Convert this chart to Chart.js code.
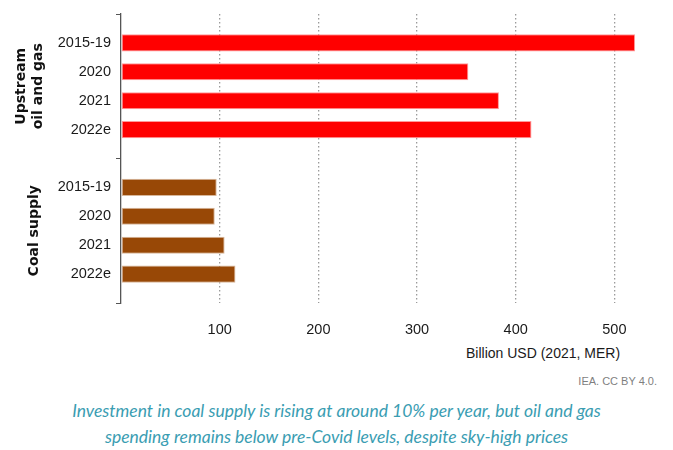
<!DOCTYPE html>
<html>
<head>
<meta charset="utf-8">
<script src="https://cdn.jsdelivr.net/npm/chart.js@4.4.1/dist/chart.umd.min.js"></script>
<style>
    body { margin: 0; background: #ffffff; }
    #wrap { position: relative; width: 673px; height: 450px; }
    #chartBox { position: absolute; left: 0; top: 0; width: 673px; height: 340px; }
    .axisTitle {
        position: absolute; left: 466px; top: 345px;
        font: 14px "Liberation Sans", sans-serif;
        color: #1a1a1a;
    }
    .source {
        position: absolute; right: 16px; top: 375px;
        font: 11px "Liberation Sans", sans-serif;
        color: #7f7f7f;
    }
    .caption {
        position: absolute; left: 0; top: 398px; width: 673px;
        text-align: center;
        font: italic 17.5px Lato, "Noto Sans", sans-serif;
        line-height: 26px;
        color: #3a9db2;
    }
</style>
</head>
<body>

<div id="wrap">
    <div id="chartBox"><canvas id="investChart"></canvas></div>
    <div class="axisTitle">Billion USD (2021, MER)</div>
    <div class="source">IEA. CC BY 4.0.</div>
    <div class="caption">
        Investment in coal supply is rising at around 10% per year, but oil and gas<br>
        spending remains below pre-Covid levels, despite sky-high prices
    </div>
</div>

<script>

// DATA

const periods = ["2015-19", "2020", "2021", "2022e"];

const oilGasValues = [521, 352, 383, 416];

const coalValues = [97, 95, 105, 116];

const groupNames = [["Upstream", "oil and gas"], ["Coal supply"]];

const xTicks = [100, 200, 300, 400, 500];


// ROWS: blank slot, 4 oil rows, blank slot, 4 coal rows, blank slot

const rowLabels = [""].concat(periods, [""], periods, [""]);

const oilRows = [null].concat(oilGasValues, [null, null, null, null, null, null]);

const coalRows = [null, null, null, null, null, null].concat(coalValues, [null]);

// the axis ticks only mark the group boundaries
const boundaryRows = [0, 5, 10];

const labelFont = "'Liberation Sans', sans-serif";


// GROUP LABELS ON THE LEFT

const groupLabels = {

    id: "groupLabels",

    afterDraw(chart) {

        const ctx = chart.ctx;
        const y = chart.scales.y;

        ctx.save();
        ctx.fillStyle = "#111111";
        ctx.font = "bold 14px 'DejaVu Sans', sans-serif";
        ctx.textAlign = "center";
        ctx.textBaseline = "middle";

        // oil and gas: two lines, centred on rows 1-4
        let cy = (y.getPixelForValue(2) + y.getPixelForValue(3)) / 2;
        ctx.translate(21, cy);
        ctx.rotate(-Math.PI / 2);
        ctx.fillText(groupNames[0][0], 0, 0);
        ctx.fillText(groupNames[0][1], 0, 17);
        ctx.rotate(Math.PI / 2);
        ctx.translate(-21, -cy);

        // coal: one line, centred on rows 6-9
        cy = (y.getPixelForValue(7) + y.getPixelForValue(8)) / 2;
        ctx.translate(34, cy);
        ctx.rotate(-Math.PI / 2);
        ctx.fillText(groupNames[1][0], 0, 0);

        ctx.restore();
    }
};


// CREATE CHART

new Chart(document.getElementById("investChart"), {

    type: "bar",

    data: {

        labels: rowLabels,

        datasets: [
            {
                label: "Upstream oil and gas",
                data: oilRows,
                backgroundColor: "#ff0000",
                borderColor: "#ff9a9a",
                borderWidth: 1,
                borderSkipped: false,
                grouped: false,
                categoryPercentage: 1,
                barPercentage: 0.59
            },
            {
                label: "Coal supply",
                data: coalRows,
                backgroundColor: "#984806",
                borderColor: "#d8b79a",
                borderWidth: 1,
                borderSkipped: false,
                grouped: false,
                categoryPercentage: 1,
                barPercentage: 0.59
            }
        ]
    },

    options: {

        indexAxis: "y",

        responsive: true,

        maintainAspectRatio: false,

        animation: false,

        layout: {
            padding: { top: 14, right: 29, left: 0, bottom: 0 }
        },

        plugins: {
            legend: { display: false },
            tooltip: { enabled: false }
        },

        scales: {

            x: {
                min: 0,
                max: 530,
                afterBuildTicks(scale) {
                    scale.ticks = [0].concat(xTicks).map((v) => ({ value: v }));
                },
                afterFit(scale) {
                    scale.height = 37;
                },
                border: { display: false, dash: [1.5, 2.5] },
                grid: {
                    color: (c) => c.tick && c.tick.value === 0 ? "rgba(0,0,0,0)" : "#9a9a9a",
                    lineWidth: 1.3,
                    drawTicks: false
                },
                ticks: {
                    padding: 18,
                    color: "#1a1a1a",
                    font: { family: labelFont, size: 14.5 },
                    callback: (v) => v === 0 ? "" : v
                }
            },

            y: {
                offset: false,
                afterFit(scale) {
                    scale.width = 121;
                },
                border: { display: true, color: "#555555", width: 1.3 },
                grid: {
                    offset: false,
                    drawOnChartArea: false,
                    tickLength: 5,
                    color: (c) => boundaryRows.includes(c.index) ? "#555555" : "rgba(0,0,0,0)"
                },
                ticks: {
                    autoSkip: false,
                    padding: 5,
                    color: "#1a1a1a",
                    font: { family: labelFont, size: 14.5 }
                }
            }
        }
    },

    plugins: [groupLabels]
});

</script>

</body>
</html>
